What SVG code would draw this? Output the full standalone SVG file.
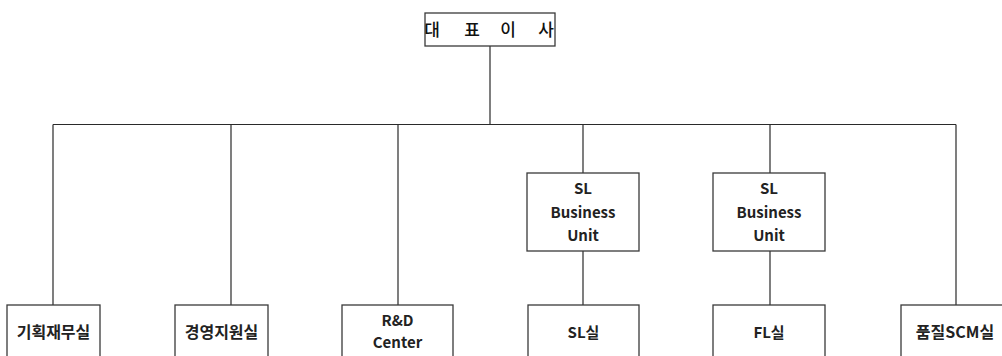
<svg xmlns="http://www.w3.org/2000/svg" width="1002" height="356" viewBox="0 0 1002 356">
<style>
.box{fill:#fff;stroke:#3a3a3a;stroke-width:1.3}
.ln{stroke:#2a2a2a;stroke-width:1.2;fill:none}
.t{font-family:"Noto Sans CJK KR","Noto Sans",sans-serif;font-size:15px;font-weight:bold;fill:#222;text-anchor:middle}
.k{font-size:16px}
.h{font-family:"Noto Sans CJK KR",sans-serif;font-size:17px;font-weight:500;fill:#111;text-anchor:middle}
</style>
<rect width="1002" height="356" fill="#fff"/>
<g id="connectors">
<path class="ln" d="M490 46V124.5M53 124.5H956M53 124.5V305M231 124.5V305M398 124.5V305M583 124.5V173M583 251V305M770 124.5V173M770 251V305M956 124.5V305"/>
</g>
<g id="ceo">
<rect class="box" x="425" y="13" width="130" height="33"/>
<text class="h" x="432" y="36">대</text>
<text class="h" x="472" y="36">표</text>
<text class="h" x="508" y="36">이</text>
<text class="h" x="546" y="36">사</text>
</g>
<g id="sl-bu-1">
<rect class="box" x="527" y="173" width="112" height="78"/>
<text class="t" x="583" y="194">SL</text>
<text class="t" x="583" y="218">Business</text>
<text class="t" x="583" y="241">Unit</text>
</g>
<g id="sl-bu-2">
<rect class="box" x="713" y="173" width="112" height="78"/>
<text class="t" x="769" y="194">SL</text>
<text class="t" x="769" y="218">Business</text>
<text class="t" x="769" y="241">Unit</text>
</g>
<g id="plan-finance">
<rect class="box" x="7" y="305" width="93" height="60"/>
<text class="t k" x="53.5" y="338">기획재무실</text>
</g>
<g id="mgmt-support">
<rect class="box" x="175" y="305" width="93" height="60"/>
<text class="t k" x="221.5" y="338">경영지원실</text>
</g>
<g id="rnd">
<rect class="box" x="342" y="305" width="111" height="60"/>
<text class="t" x="397.5" y="326">R&amp;D</text>
<text class="t" x="397.5" y="348">Center</text>
</g>
<g id="sl">
<rect class="box" x="528" y="305" width="111" height="60"/>
<text class="t" x="583.5" y="338">SL실</text>
</g>
<g id="fl">
<rect class="box" x="713" y="305" width="112" height="60"/>
<text class="t" x="769" y="338">FL실</text>
</g>
<g id="quality-scm">
<rect class="box" x="901" y="305" width="110" height="60"/>
<text class="t k" x="955" y="338">품질SCM실</text>
</g>
</svg>
